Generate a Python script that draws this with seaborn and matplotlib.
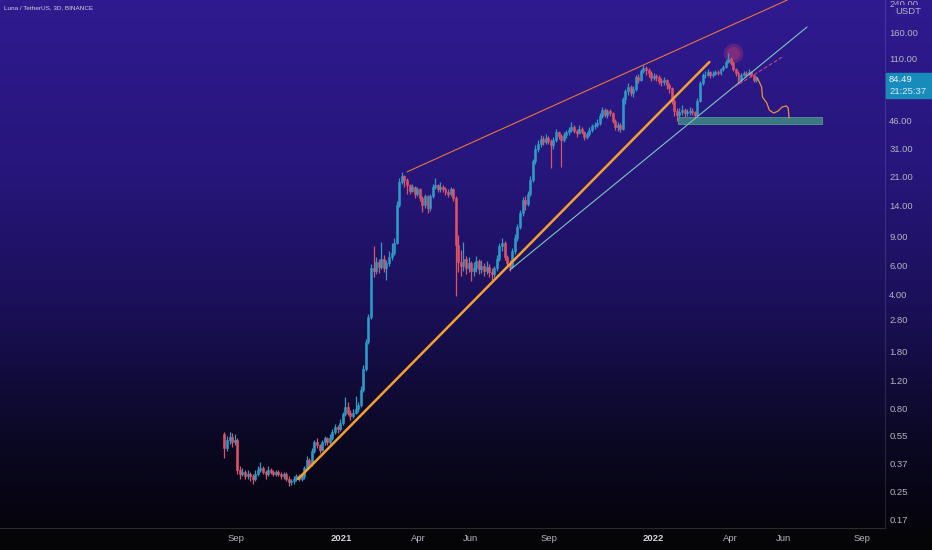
import numpy as np
import pandas as pd
import matplotlib.pyplot as plt
import matplotlib.dates as mdates
from matplotlib.colors import LinearSegmentedColormap
from matplotlib.patches import Rectangle
from matplotlib.ticker import FixedLocator, NullLocator
import seaborn as sns

# LUNA / USDT 3D candles
first_candle = "2020-08-18"
first_open = 0.56
close = [
    0.46, 0.52, 0.54, 0.50, 0.52, 0.34, 0.32, 0.33, 0.31, 0.32,
    0.31, 0.30, 0.32, 0.34, 0.35, 0.33, 0.32, 0.34, 0.33, 0.32,
    0.33, 0.32, 0.31, 0.32, 0.30, 0.285, 0.29, 0.30, 0.31, 0.30,
    0.31, 0.35, 0.39, 0.37, 0.44, 0.50, 0.48, 0.45, 0.50, 0.53,
    0.50, 0.53, 0.58, 0.62, 0.60, 0.66, 0.74, 0.82, 0.76, 0.72,
    0.76, 0.80, 0.84, 1.05, 1.40, 2.05, 2.9, 5.8, 5.6, 6.3,
    5.9, 6.6, 5.8, 6.2, 6.8, 7.2, 8.3, 14.0, 19.5, 21.0,
    20.0, 18.5, 17.2, 18.0, 16.5, 17.5, 15.5, 14.0, 16.0, 13.5,
    16.0, 18.0, 18.5, 17.5, 18.0, 17.5, 17.0, 16.5, 17.5, 15.5,
    8.0, 6.3, 6.0, 6.6, 5.8, 6.2, 5.6, 5.8, 6.4, 5.7,
    6.0, 5.6, 5.9, 5.5, 5.3, 5.8, 6.6, 7.9, 8.3, 6.8,
    6.2, 5.9, 7.4, 8.8, 10.3, 12.5, 15.0, 14.2, 16.5, 20.0,
    26.0, 31.0, 33.0, 35.5, 34.0, 36.0, 34.5, 32.5, 35.0, 39.0,
    37.0, 35.0, 37.5, 39.0, 40.5, 42.0, 40.0, 38.5, 41.0, 39.5,
    36.5, 38.0, 40.5, 42.5, 43.0, 44.5, 49.0, 53.5, 50.0, 52.5,
    51.0, 46.0, 42.0, 43.5, 41.0, 62.0, 70.0, 74.0, 68.0, 72.0,
    85.0, 82.0, 92.0, 97.0, 94.0, 90.0, 84.0, 86.0, 85.0, 80.0,
    79.0, 82.0, 76.0, 73.0, 61.0, 53.0, 50.0, 52.0, 53.5, 51.0,
    52.0, 53.0, 52.0, 50.0, 61.0, 78.0, 87.0, 88.0, 91.5, 87.0,
    89.0, 91.5, 90.0, 94.5, 98.0, 105.0, 110.0, 104.0, 95.0, 90.0,
    81.0, 88.0, 90.0, 89.0, 91.0, 88.0, 81.0, 84.49,
]
high = [
    0.58, 0.55, 0.58, 0.57, 0.56, 0.53, 0.36, 0.35, 0.34, 0.34,
    0.33, 0.32, 0.34, 0.36, 0.38, 0.36, 0.34, 0.36, 0.35, 0.34,
    0.34, 0.34, 0.33, 0.33, 0.33, 0.31, 0.30, 0.31, 0.32, 0.32,
    0.32, 0.36, 0.41, 0.40, 0.46, 0.52, 0.53, 0.49, 0.52, 0.55,
    0.54, 0.56, 0.60, 0.65, 0.64, 0.69, 0.77, 0.95, 0.88, 0.79,
    0.80, 0.96, 0.88, 1.10, 1.48, 2.15, 3.05, 6.1, 7.9, 6.8,
    6.6, 8.4, 7.0, 6.5, 7.4, 8.3, 8.9, 14.8, 20.5, 22.5,
    21.5, 20.6, 19.0, 19.0, 18.3, 18.2, 17.8, 16.0, 16.5, 16.2,
    16.5, 19.0, 20.5, 19.0, 19.5, 18.5, 18.0, 17.5, 18.0, 17.8,
    16.0, 9.2, 7.5, 8.4, 6.9, 6.8, 6.4, 6.3, 6.9, 6.6,
    6.5, 6.2, 6.4, 6.1, 5.8, 6.0, 7.0, 8.3, 8.9, 8.5,
    7.0, 6.5, 7.7, 9.3, 10.8, 13.2, 15.8, 16.0, 17.2, 21.0,
    27.0, 32.5, 35.0, 37.5, 37.0, 38.0, 37.0, 35.5, 36.5, 41.0,
    40.0, 38.0, 39.0, 40.5, 42.0, 45.0, 43.0, 41.0, 43.5, 42.0,
    40.0, 39.5, 42.0, 44.0, 45.0, 47.0, 51.0, 56.0, 55.0, 54.0,
    54.5, 52.0, 47.0, 45.0, 44.5, 64.0, 72.0, 78.0, 76.0, 75.0,
    88.0, 89.0, 95.0, 100.0, 99.0, 97.0, 92.0, 90.0, 89.0, 87.0,
    84.0, 85.0, 83.0, 78.0, 74.0, 62.0, 55.0, 55.0, 57.0, 55.0,
    54.5, 56.0, 55.0, 53.0, 63.0, 80.0, 90.0, 93.0, 95.0, 93.0,
    92.0, 94.0, 94.0, 97.0, 101.0, 108.0, 119.0, 112.0, 106.0, 97.0,
    92.0, 90.0, 93.0, 92.0, 95.0, 93.0, 89.0, 86.0,
]
low = [
    0.40, 0.44, 0.49, 0.47, 0.48, 0.32, 0.30, 0.31, 0.30, 0.30,
    0.29, 0.28, 0.29, 0.31, 0.33, 0.32, 0.30, 0.31, 0.32, 0.31,
    0.31, 0.31, 0.30, 0.30, 0.29, 0.27, 0.275, 0.28, 0.29, 0.29,
    0.29, 0.30, 0.34, 0.35, 0.36, 0.43, 0.46, 0.43, 0.44, 0.48,
    0.48, 0.49, 0.52, 0.56, 0.57, 0.59, 0.64, 0.72, 0.73, 0.68,
    0.70, 0.74, 0.77, 0.82, 1.02, 1.36, 2.0, 2.85, 5.1, 5.3,
    5.4, 5.7, 5.5, 4.9, 6.0, 6.5, 7.0, 8.1, 13.6, 18.8,
    18.0, 16.5, 16.4, 16.8, 15.6, 16.0, 14.8, 12.8, 13.5, 12.5,
    13.0, 15.5, 17.5, 16.8, 17.0, 16.8, 16.2, 15.8, 16.0, 14.8,
    3.9, 5.5, 5.2, 5.6, 5.3, 5.5, 4.8, 5.2, 5.5, 5.3,
    5.4, 5.2, 5.3, 5.1, 4.9, 5.1, 5.6, 6.4, 7.4, 6.5,
    5.8, 5.6, 5.8, 7.1, 8.5, 10.0, 12.0, 13.2, 13.8, 16.0,
    19.5, 25.0, 29.5, 32.0, 32.5, 33.0, 33.0, 23.5, 31.0, 34.0,
    35.5, 24.0, 34.0, 36.0, 37.5, 39.5, 38.5, 36.5, 38.0, 38.0,
    35.0, 35.5, 37.0, 39.5, 41.0, 42.0, 43.5, 48.0, 48.5, 48.0,
    49.0, 44.5, 40.5, 40.0, 39.0, 40.5, 58.0, 66.0, 65.0, 64.0,
    70.0, 78.0, 80.0, 90.0, 88.0, 85.0, 80.0, 81.0, 80.0, 77.0,
    75.0, 76.0, 72.0, 68.0, 58.0, 49.0, 46.0, 48.0, 50.0, 48.5,
    49.0, 50.0, 49.5, 47.5, 49.0, 60.0, 76.0, 84.0, 86.0, 84.0,
    85.0, 87.0, 87.0, 88.0, 92.0, 96.0, 103.0, 100.0, 92.0, 86.0,
    77.0, 79.0, 86.0, 85.0, 87.0, 85.0, 79.0, 79.0,
]

price_ticks = [240, 160, 110, 46, 31, 21, 14, 9, 6, 4, 2.8, 1.8, 1.2,
               0.8, 0.55, 0.37, 0.25, 0.17]
month_ticks = ["2020-09-01", "2021-01-01", "2021-04-01", "2021-06-01",
               "2021-09-01", "2022-01-01", "2022-04-01", "2022-06-01",
               "2022-09-01"]
month_labels = ["Sep", "2021", "Apr", "Jun", "Sep", "2022", "Apr", "Jun", "Sep"]

# drawings on the chart
upper_dates = ["2021-03-19", "2022-06-06"]
upper_price = [22.4, 251]
support_dates = ["2020-11-12", "2022-03-07"]
support_price = [0.299, 105]
channel_dates = ["2021-07-17", "2022-06-29"]
channel_price = [5.64, 171.7]
dash_dates = ["2022-04-05", "2022-06-02"]
dash_price = [73.8, 114.2]
proj_dates = ["2022-05-02", "2022-05-07", "2022-05-08", "2022-05-13",
              "2022-05-16", "2022-05-21", "2022-05-26", "2022-05-31",
              "2022-06-05", "2022-06-07", "2022-06-08"]
proj_price = [84.0, 73.8, 64.2, 59.0, 53.4, 51.2, 52.6, 55.8, 56.6, 55.0, 47.8]
zone_dates = ["2022-01-29", "2022-07-17"]
zone_price = [44.1, 48.6]
ath_date = "2022-04-03"
ath_price = 119
last_price = 84.49
countdown = "21:25:37"

UP = "#2e9bc6"
DOWN = "#de5268"
TXT = "#b2b5be"

sns.set_style("dark")
plt.rcParams["font.family"] = ["Liberation Sans", "DejaVu Sans"]

W, H = 932, 550
fig = plt.figure(figsize=(W / 100, H / 100), dpi=100)

# gradient background
bg_cmap = LinearSegmentedColormap.from_list(
    "bg", [(0.0, "#2f1a8f"), (0.3, "#27167c"), (0.55, "#1b105a"),
           (0.8, "#0b0824"), (1.0, "#040306")])
bg = fig.add_axes([0, 0, 1, 1], zorder=0)
bg.imshow(np.linspace(0, 1, 512)[:, None], aspect="auto", cmap=bg_cmap,
          extent=(0, 1, 0, 1))
bg.add_patch(Rectangle((0, 0), 1, 22 / H, color="#050407"))
bg.set_axis_off()

ax = fig.add_axes([0, 22 / H, 885 / W, 528 / H], zorder=1)
ax.set_facecolor("none")

dates = pd.date_range(first_candle, periods=len(close), freq="3D")
o = np.array([first_open] + close[:-1])
c = np.array(close)
hi = np.array(high)
lo = np.array(low)
up = c >= o
cols = np.where(up, UP, DOWN)

ax.vlines(dates, lo, hi, colors=cols, lw=0.9, zorder=3)
ax.bar(dates, np.abs(c - o), bottom=np.minimum(o, c), width=2.3,
       color=cols, edgecolor=cols, linewidth=0.4, zorder=4)

# trend lines and drawings
lines = pd.DataFrame({
    "date": pd.to_datetime(upper_dates + support_dates + channel_dates + dash_dates),
    "price": upper_price + support_price + channel_price + dash_price,
    "name": ["upper"] * 2 + ["support"] * 2 + ["channel"] * 2 + ["dash"] * 2,
})
styles = {"upper": ("#e8743e", 0.8, "-"), "support": ("#f4a031", 1.8, "-"),
          "channel": ("#7cc6bd", 0.8, "-"), "dash": ("#d0507e", 0.7, (0, (4, 2)))}
for name, (col, lw, ls) in styles.items():
    sub = lines[lines["name"] == name]
    sns.lineplot(data=sub, x="date", y="price", ax=ax, color=col, lw=lw,
                 linestyle=ls, estimator=None, sort=False, zorder=5)

proj = pd.DataFrame({"date": pd.to_datetime(proj_dates), "price": proj_price})
sns.lineplot(data=proj, x="date", y="price", ax=ax, color="#e8913a", lw=0.9,
             estimator=None, sort=False, zorder=5)

zd = mdates.date2num(pd.to_datetime(zone_dates))
ax.add_patch(Rectangle((zd[0], zone_price[0]), zd[1] - zd[0],
                       zone_price[1] - zone_price[0], facecolor="#3f8a84",
                       edgecolor="#5aa596", lw=0.6, alpha=0.85, zorder=2))

ax.scatter([pd.Timestamp(ath_date)], [ath_price], s=200, color="#d8406e",
           alpha=0.28, linewidths=0, zorder=2)
ax.scatter([pd.Timestamp(ath_date)], [ath_price], s=90, color="#e04a72",
           alpha=0.25, linewidths=0, zorder=2)

# axes
base = pd.Timestamp("2020-09-01")
ax.set_xlim(base - pd.Timedelta(days=276), base + pd.Timedelta(days=757))
ax.set_yscale("log")
ax.set_ylim(0.150, 251)
ax.set_xlabel("")
ax.set_ylabel("")
ax.grid(False)

ax.yaxis.tick_right()
ax.yaxis.set_major_locator(FixedLocator(price_ticks))
ax.yaxis.set_minor_locator(NullLocator())
ax.set_yticklabels([f"{p:.2f}" for p in price_ticks])
ax.tick_params(axis="y", length=0, pad=3, labelsize=6.8, labelcolor=TXT)

ax.set_xticks(pd.to_datetime(month_ticks))
ax.set_xticklabels(month_labels)
ax.tick_params(axis="x", length=0, pad=4.5, labelsize=6.8, labelcolor=TXT)
for lab in ax.get_xticklabels():
    if lab.get_text().startswith("20"):
        lab.set_fontweight("bold")
        lab.set_color("#d1d4dc")

for side in ["top", "left"]:
    ax.spines[side].set_visible(False)
ax.spines["bottom"].set_color("#2a2a32")
ax.spines["bottom"].set_linewidth(0.8)
ax.spines["right"].set_color((1, 1, 1, 0.12))
ax.spines["right"].set_linewidth(0.8)

# header and price-scale labels
fig.text(4 / W, 1 - 8 / H, "Luna / TetherUS, 3D, BINANCE", fontsize=4.6,
         color="#d1d4dc", va="center", ha="left")
fig.text(908 / W, 1 - 11 / H, "USDT", fontsize=6.8, color=TXT, va="center",
         ha="center", bbox=dict(boxstyle="square,pad=0.15", fc="#2f1a8f", ec="none"))

fig.patches.append(Rectangle((886 / W, 1 - 98 / H), 46 / W, 25 / H,
                             transform=fig.transFigure, color="#178bba",
                             zorder=5))
fig.text(889 / W, 1 - 79 / H, f"{last_price:.2f}", fontsize=6.8,
         color="#eef6fa", va="center", ha="left", zorder=6)
fig.text(889 / W, 1 - 91 / H, countdown, fontsize=6.8, color="#d6eaf3",
         va="center", ha="left", zorder=6)

fig.savefig("out.png", dpi=100)
